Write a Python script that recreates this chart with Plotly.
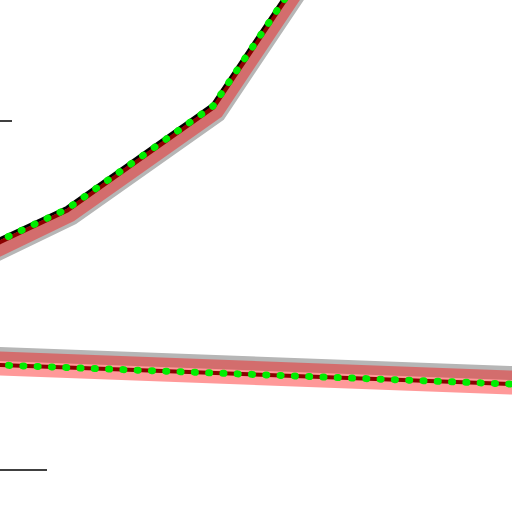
import plotly.graph_objects as go

# Series values (x, y)
upper_x = [-30, 0, 67, 213, 284, 300]
upper_y = [256, 271.6, 303, 406, 512, 536]
lower_x = [-20, 0, 512, 530]
lower_y = [147.7, 147, 128, 127.3]

def shift(xs, ys, dx, dy):
    return [x + dx for x in xs], [y + dy for y in ys]

fig = go.Figure()

def add(xs, ys, color, width, dash="solid"):
    fig.add_trace(go.Scatter(x=xs, y=ys, mode="lines",
                             line=dict(color=color, width=width, dash=dash),
                             hoverinfo="skip", showlegend=False))

DOT = "1px,13.3px"

# upper series
gx, gy = shift(upper_x, upper_y, 5, -8)
add(gx, gy, "rgb(182,182,182)", 16)
px_, py_ = shift(upper_x, upper_y, 3, -5)
add(px_, py_, "rgba(255,0,0,0.4)", 16)
bx, by = shift(upper_x, upper_y, -0.5, 1.5)
add(bx, by, "black", 3)
rx, ry = shift(upper_x, upper_y, 0.5, -1.5)
add(rx, ry, "#8b0000", 4)
add(upper_x, upper_y, "#00ee00", 7, DOT)

# lower series
gx, gy = shift(lower_x, lower_y, 0, 11)
add(gx, gy, "rgb(182,182,182)", 14)
px_, py_ = shift(lower_x, lower_y, 0, 1.5)
add(px_, py_, "rgba(255,0,0,0.4)", 24)
add(lower_x, lower_y, "#8b0000", 4)
add(lower_x, lower_y, "#00ee00", 7, DOT)

fig.update_layout(
    width=512, height=512,
    margin=dict(l=0, r=0, t=0, b=0),
    paper_bgcolor="white", plot_bgcolor="white",
    xaxis=dict(range=[0, 512], visible=False, fixedrange=True),
    yaxis=dict(range=[0, 512], visible=False, fixedrange=True),
    hovermode=False,
    shapes=[
        dict(type="line", xref="paper", yref="paper", x0=0, x1=12/512,
             y0=1 - 121/512, y1=1 - 121/512, line=dict(color="black", width=1.5)),
        dict(type="line", xref="paper", yref="paper", x0=0, x1=47/512,
             y0=1 - 470/512, y1=1 - 470/512, line=dict(color="black", width=1.5)),
    ],
)

post = ("var s=document.createElement('style');"
        "s.innerHTML='html,body{margin:0;padding:0;overflow:hidden}.js-line{stroke-linecap:round}';"
        "document.head.appendChild(s);")
fig.write_html("out.html", post_script=post, config={"displayModeBar": False})
